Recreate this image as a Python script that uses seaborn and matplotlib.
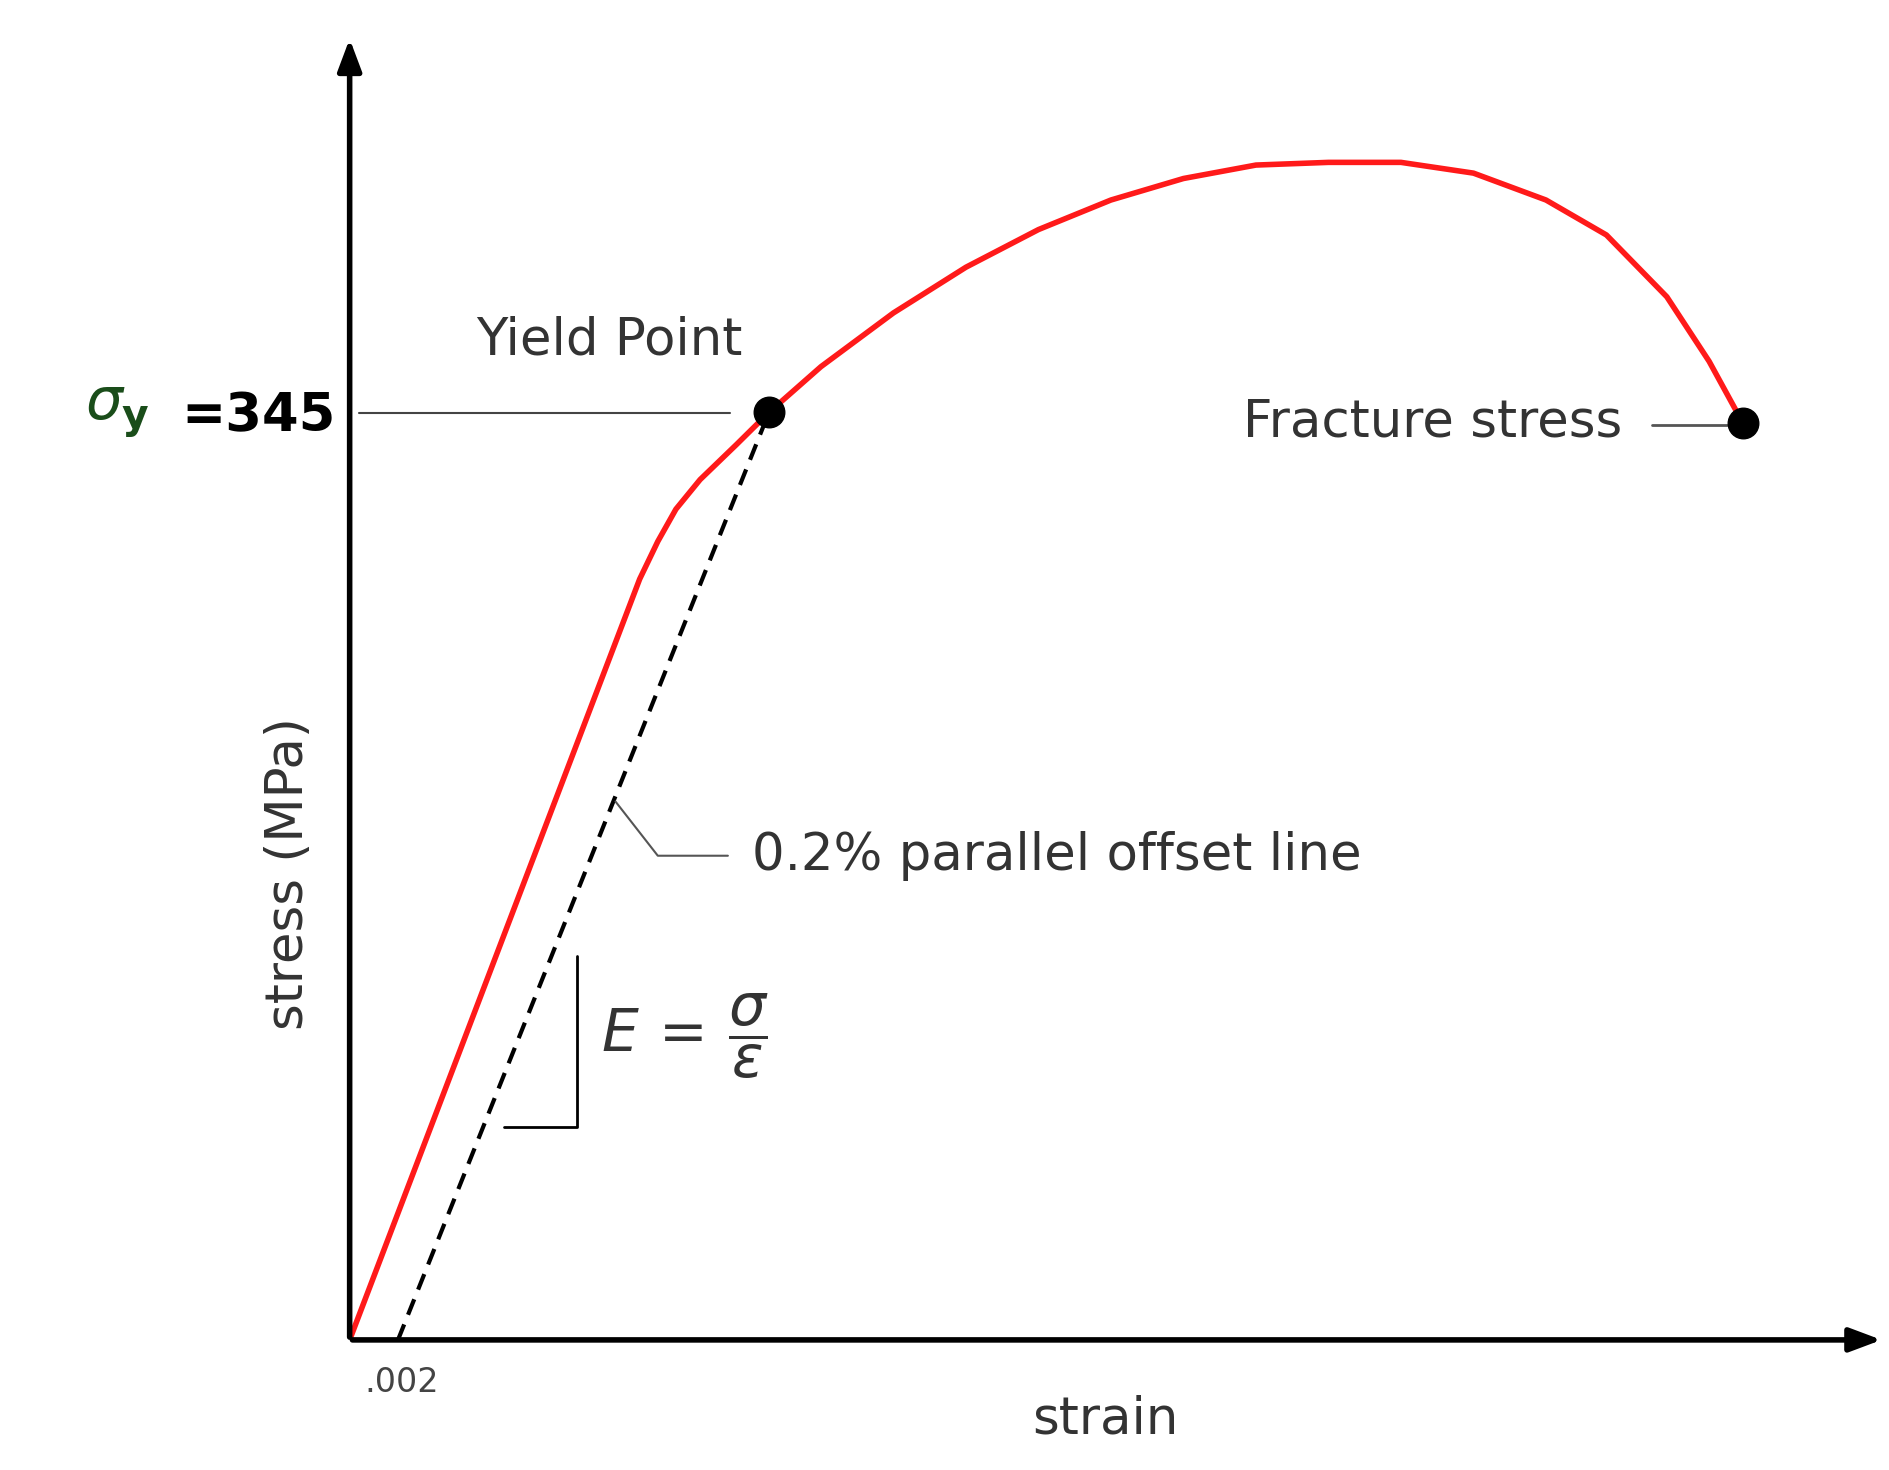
import matplotlib
matplotlib.use("Agg")
import matplotlib.pyplot as plt
import seaborn as sns
import pandas as pd

sns.set_theme(style="white")
plt.rcParams['font.family'] = ['DejaVu Sans']

# data
strain = [0, 0.012, 0.01275, 0.0135, 0.0145, 0.016, 0.01735, 0.0195, 0.0225, 0.0255,
          0.0285, 0.0315, 0.0345, 0.0375, 0.0405, 0.0435, 0.0465, 0.0495, 0.052, 0.0545, 0.05625, 0.05765]
stress = [0, 283, 297, 309, 320, 333, 345, 362, 382, 399,
          413, 424, 432, 437, 438, 438, 434, 424, 411, 388, 364, 341]
offset_strain = [0.002, 0.01735]
offset_stress = [0, 345]
yield_pt = (0.01735, 345)
fracture_pt = (0.05765, 341)

def px(x, y):
    return ((x - 290) * 5e-5, (1112 - y) * 0.448)

fig = plt.figure(figsize=(18.9, 14.7), dpi=100)
ax = fig.add_axes([0.185, 0.0885, 0.812, 0.887])
ax.set_xlim(0, 0.0635)
ax.set_ylim(0, 485)
for s in ax.spines.values():
    s.set_visible(False)
ax.set_xticks([]); ax.set_yticks([])
ax.patch.set_alpha(0)

df = pd.DataFrame({"strain": strain, "stress": stress})
sns.lineplot(data=df, x="strain", y="stress", ax=ax, color="#ff1a1a", lw=4, sort=False)
ax.plot(offset_strain, offset_stress, ls=(0, (4, 2.5)), color="black", lw=3)
ax.plot(*yield_pt, 'o', color='black', ms=22, zorder=5)
ax.plot(*fracture_pt, 'o', color='black', ms=22, zorder=5)
ax.set_xlabel(""); ax.set_ylabel("")

ax.annotate("", xy=(0.0635, 0), xytext=(0, 0), xycoords='data',
            arrowprops=dict(arrowstyle="-|>,head_length=1.6,head_width=0.6", lw=4, color="black"),
            annotation_clip=False)
ax.annotate("", xy=(0, 485), xytext=(0, 0),
            arrowprops=dict(arrowstyle="-|>,head_length=1.6,head_width=0.6", lw=4, color="black"),
            annotation_clip=False)

x0, y0 = px(298, 342); x1, _ = px(605, 342)
ax.plot([x0, x1], [y0, y0], color="#444444", lw=1.5)
a, b = px(1368, 352); c, _ = px(1430, 352)
ax.plot([a, c], [b, b], color="#555555", lw=2)
p = [px(510, 665), px(545, 710), px(603, 710)]
ax.plot([q[0] for q in p], [q[1] for q in p], color="#555555", lw=1.5)
p = [px(478, 793), px(478, 935), px(418, 935)]
ax.plot([q[0] for q in p], [q[1] for q in p], color="black", lw=2)

fs = 37
tc = "#333333"
ax.text(*px(505, 282), "Yield Point", ha="center", va="center", fontsize=fs, color=tc)
ax.text(*px(1343, 350), "Fracture stress", ha="right", va="center", fontsize=fs, color=tc)
ax.text(*px(623, 710), "0.2% parallel offset line", ha="left", va="center", fontsize=fs, color=tc)
ax.text(*px(498, 860), r"$E\,=\,\dfrac{\sigma}{\epsilon}$", ha="left", va="center", fontsize=42, color=tc)
ax.text(*px(240, 725), "stress (MPa)", ha="center", va="center", rotation=90, fontsize=fs, color=tc)
ax.text(*px(915, 1178), "strain", ha="center", va="center", fontsize=fs, color=tc)
ax.text(*px(333, 1147), ".002", ha="center", va="center", fontsize=24, color="#444444")
ax.text(*px(278, 345), "=345", ha="right", va="center", fontsize=38, fontweight="bold", color="black")
ax.text(*px(98, 342), r"$\sigma_{\mathbf{y}}$", ha="center", va="center", fontsize=42, color="#1a4d1a")

fig.savefig("out.png", dpi=100, facecolor="white")
